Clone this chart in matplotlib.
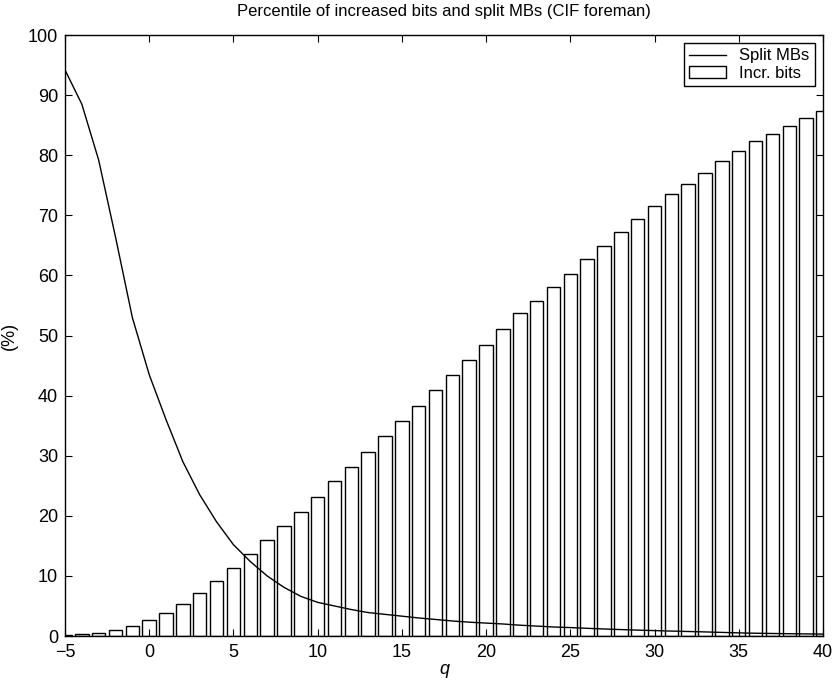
import numpy as np
import matplotlib.pyplot as plt

plt.rcParams['font.family'] = ['Liberation Sans', 'DejaVu Sans']

# quantiser offset q
q = np.arange(-5, 41)

# percentile of increased bits (bars)
incr_bits = [0.1, 0.3, 0.55, 1.05, 1.65, 2.6, 3.8, 5.3, 7.1, 9.1,
             11.3, 13.6, 15.9, 18.3, 20.6, 23.1, 25.8, 28.2, 30.7, 33.2,
             35.7, 38.3, 41.0, 43.4, 46.0, 48.5, 51.1, 53.8, 55.7, 58.1,
             60.2, 62.8, 64.9, 67.3, 69.4, 71.5, 73.5, 75.2, 77.0, 79.0,
             80.7, 82.3, 83.6, 84.9, 86.2, 87.4]

# percentile of split MBs (line)
split_mbs = [94.2, 88.5, 79.2, 66.4, 53.0, 43.5, 36.0, 29.0, 23.5, 19.0,
             15.2, 12.4, 10.0, 8.1, 6.6, 5.6, 5.0, 4.4, 3.9, 3.6,
             3.3, 3.0, 2.75, 2.5, 2.3, 2.15, 2.0, 1.8, 1.65, 1.5,
             1.4, 1.28, 1.17, 1.07, 0.98, 0.9, 0.82, 0.75, 0.68, 0.6,
             0.52, 0.46, 0.42, 0.38, 0.35, 0.32]

fig = plt.figure(figsize=(8.35, 6.8), dpi=100)
ax = fig.add_axes([0.0778, 0.0647, 0.9078, 0.8838])

ax.plot(q, split_mbs, color='black', lw=1.0, label='Split MBs')
ax.bar(q, incr_bits, width=0.8, color='white', edgecolor='black',
       linewidth=1.0, label='Incr. bits')

ax.set_xlim(-5, 40)
ax.set_ylim(0, 100)
ax.set_xticks(np.arange(-5, 41, 5))
ax.set_yticks(np.arange(0, 101, 10))
ax.set_xticklabels(['\u22125'] + [str(v) for v in range(0, 41, 5)])
ax.tick_params(direction='in', top=True, right=True, length=5,
               labelsize=13)
ax.tick_params(axis='x', pad=6)
ax.tick_params(axis='y', pad=5)
for s in ax.spines.values():
    s.set_linewidth(1.0)

ax.set_xlabel('q', fontsize=13, style='italic', labelpad=0)
ax.set_ylabel('(%)', fontsize=13)
ax.yaxis.set_label_coords(-0.062, 0.5)
ax.set_title('Percentile of increased bits and split MBs (CIF foreman)',
             fontsize=12, pad=14)

leg = ax.legend(loc='upper right', fontsize=12, frameon=True, fancybox=False,
                edgecolor='black', framealpha=1, borderaxespad=0.5,
                handlelength=2.2, borderpad=0.3, labelspacing=0.15)
leg.get_frame().set_linewidth(1.0)

fig.savefig('out.png', dpi=100)
